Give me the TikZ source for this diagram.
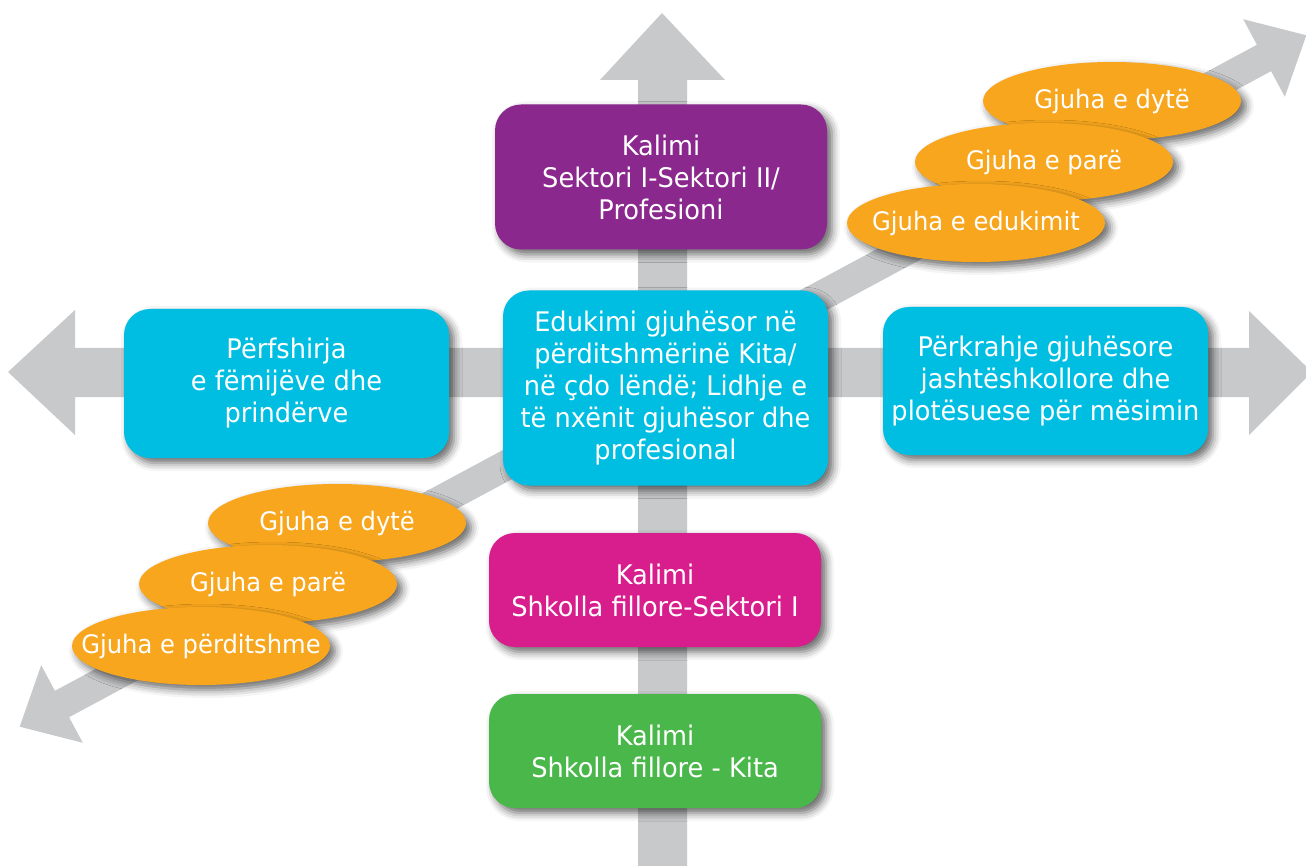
\documentclass[tikz,border=0pt]{standalone}
\usepackage{fontspec}
\setmainfont[FakeStretch=0.95]{DejaVu Sans}
\usetikzlibrary{shadows.blur,shapes.geometric}
\definecolor{arrowgray}{RGB}{200,201,203}
\definecolor{boxcyan}{RGB}{0,190,226}
\definecolor{boxpurple}{RGB}{139,40,142}
\definecolor{boxmagenta}{RGB}{216,30,140}
\definecolor{boxgreen}{RGB}{74,183,74}
\definecolor{ellorange}{RGB}{247,166,30}
\tikzset{
  shad/.style={blur shadow={shadow xshift=5pt, shadow yshift=-5pt, shadow blur radius=8pt, shadow opacity=60}},
  box/.style={shad, rounded corners=26pt, text=white, align=center, inner sep=0pt,
    font=\fontsize{27}{32}\selectfont},
  lang/.style={shad, ellipse, fill=ellorange, text=white, inner sep=0pt,
    minimum width=258pt, minimum height=78pt, font=\fontsize{25.5}{32}\selectfont},
}
\newcommand{\ztext}[1]{\makebox[0pt]{#1}}
\begin{document}
\begin{tikzpicture}[x=1pt,y=-1pt]
\useasboundingbox (0,0) rectangle (1306,866);
\clip (0,0) rectangle (1306,866);
% vertical arrow
\fill[arrowgray] (638,880) -- (638,80) -- (600,80) -- (662,13) -- (725,80) -- (687,80) -- (687,880) -- cycle;
% horizontal double arrow
\fill[arrowgray] (75,348) -- (75,310) -- (8,372) -- (75,435) -- (75,397)
  -- (1249,397) -- (1249,435) -- (1312,372) -- (1249,311) -- (1249,348) -- cycle;
% diagonal double arrow
\fill[arrowgray] (54.9,690.8) -- (41.2,665.2) -- (19.7,726.7) -- (82.8,742.8) -- (69.1,717.2)
  -- (1271.1,71.2) -- (1284.8,96.8) -- (1306.3,35.3) -- (1243.2,19.2) -- (1256.9,44.8) -- cycle;
% upper-right language ellipses
\node[lang] (ur3) at (1112,101) {\ztext{Gjuha e dytë}};
\node[lang] (ur2) at (1044,162) {\ztext{Gjuha e parë}};
\node[lang] (ur1) at (976,223) {\ztext{Gjuha e edukimit}};
% lower-left language ellipses
\node[lang] (ll3) at (337,523) {\ztext{Gjuha e dytë}};
\node[lang] (ll2) at (268,584) {\ztext{Gjuha e parë}};
\node[lang] (ll1) at (201,646) {\ztext{Gjuha e përditshme}};
% boxes
\node[box, fill=boxpurple, minimum width=332pt, minimum height=145pt] (sektor) at (661,177)
  {Kalimi\\Sektori I-Sektori II/\\Profesioni};
\node[box, fill=boxcyan, minimum width=325pt, minimum height=149pt] (perf) at (286.5,383.5)
  {Përfshirja\\e fëmijëve dhe\\prindërve};
\node[box, fill=boxcyan, minimum width=325pt, minimum height=195pt] (edu) at (665.5,388)
  {Edukimi gjuhësor në\\përditshmërinë Kita/\\në çdo lëndë; Lidhje e\\të nxënit gjuhësor dhe\\profesional};
\node[box, fill=boxcyan, minimum width=325pt, minimum height=148pt] (perk) at (1045.5,381)
  {Përkrahje gjuhësore\\jashtëshkollore dhe\\plotësuese për mësimin};
\node[box, fill=boxmagenta, minimum width=332pt, minimum height=114pt] (shk) at (655,590)
  {Kalimi\\Shkolla fillore-Sektori I};
\node[box, fill=boxgreen, minimum width=332pt, minimum height=114pt] (kita) at (655,751)
  {Kalimi\\Shkolla fillore - Kita};
\end{tikzpicture}
\end{document}
